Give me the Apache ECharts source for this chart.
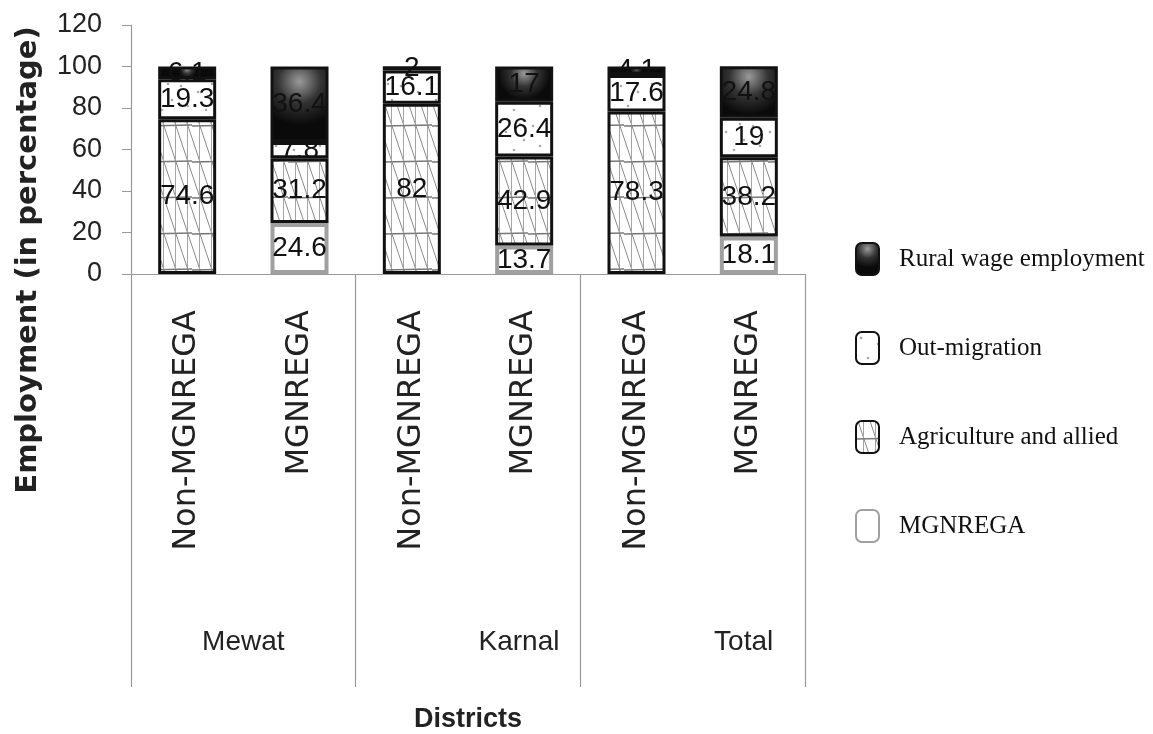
<!DOCTYPE html>
<html>
<head>
<meta charset="utf-8">
<script src="https://cdn.jsdelivr.net/npm/echarts@6/dist/echarts.min.js"></script>
<style>html,body{margin:0;padding:0;background:#fff;}#c{width:1153px;height:734px;}</style>
</head>
<body>
<div id="c"></div>
<script>
var categories = ['Non-MGNREGA','MGNREGA','Non-MGNREGA','MGNREGA','Non-MGNREGA','MGNREGA'];
var districts = ['Mewat','Karnal','Total'];
var mgnrega = [null, 24.6, null, 13.7, null, 18.1];
var agriculture = [74.6, 31.2, 82, 42.9, 78.3, 38.2];
var outMigration = [19.3, 7.8, 16.1, 26.4, 17.6, 19];
var ruralWage = [6.1, 36.4, 2, 17, 4.1, 24.8];
var yTicks = [0, 20, 40, 60, 80, 100, 120];

var NARROW = '"Liberation Sans",Arial,sans-serif';
var WIDE = '"DejaVu Sans",Verdana,sans-serif';

function hatchPattern(){
  var c = document.createElement('canvas'); c.width = 48; c.height = 36;
  var g = c.getContext('2d');
  g.fillStyle = '#fff'; g.fillRect(0,0,48,36);
  g.strokeStyle = '#8a8a8a'; g.lineWidth = 1;
  for (var k = -1; k < 5; k++) {
    var x0 = k*12 + 2;
    g.beginPath(); g.moveTo(x0, 0); g.lineTo(x0 + 12, 36); g.stroke();
  }
  g.strokeStyle = '#a5a5a5';
  for (var j = 0; j < 4; j++) { g.beginPath(); g.moveTo(j*12+7.5, 0); g.lineTo(j*12+7.5, 36); g.stroke(); }
  g.strokeStyle = '#777'; g.lineWidth = 1.3;
  g.beginPath(); g.moveTo(0, 18); g.lineTo(48, 17); g.stroke();
  return c;
}
function dotPattern(){
  var c = document.createElement('canvas'); c.width = 44; c.height = 40;
  var g = c.getContext('2d');
  g.fillStyle = '#fff'; g.fillRect(0,0,44,40);
  g.fillStyle = '#aaa';
  var pts = [[5,6],[22,12],[36,4],[12,26],[30,30],[40,20]];
  pts.forEach(function(p){ g.beginPath(); g.arc(p[0], p[1], 1.3, 0, Math.PI*2); g.fill(); });
  return c;
}
var ruralFill = {type:'radial', x:0.5, y:0.2, r:0.75, colorStops:[{offset:0,color:'#9a9a9a'},{offset:0.5,color:'#333'},{offset:1,color:'#0a0a0a'}]};

var labelStyle = {show:true, position:'inside', color:'#111', fontFamily:NARROW, fontSize:28,
  formatter:function(p){ return p.value == null ? '' : String(p.value); }};

var chart = echarts.init(document.getElementById('c'));
chart.setOption({
  animation:false,
  backgroundColor:'#fff',
  grid:{left:131, right:348, top:25, bottom:457, containLabel:false},
  legend:{
    orient:'vertical', left:850, top:237, itemWidth:23, itemHeight:32, itemGap:55,
    icon:'roundRect',
    data:['Rural wage employment','Out-migration','Agriculture and allied','MGNREGA'],
    textStyle:{fontFamily:'"Liberation Serif","Times New Roman",serif', fontSize:25, color:'#111', padding:[0,0,0,15]}
  },
  xAxis:[{
    type:'category', data:categories, position:'bottom',
    axisLine:{show:true, lineStyle:{color:'#999', width:1.2}},
    axisTick:{show:false},
    axisLabel:{rotate:90, margin:36, interval:0, color:'#222', fontFamily:WIDE, fontSize:32}
  },{
    type:'category', data:districts, position:'bottom',
    axisLine:{show:false},
    axisTick:{show:true, length:413, interval:0, lineStyle:{color:'#999', width:1.2}},
    axisLabel:{interval:0, margin:354, color:'#222', fontFamily:NARROW, fontSize:28,
      formatter:function(v, i){ return i === 0 ? v : '{s|' + v + '}'; },
      rich:{s:{fontFamily:NARROW, fontSize:28, color:'#222', padding:[0,0,0,102]}}},
    name:'Districts', nameLocation:'middle', nameGap:432,
    nameTextStyle:{fontFamily:NARROW, fontWeight:'bold', fontSize:27, color:'#222'}
  }],
  yAxis:{
    type:'value', min:yTicks[0], max:yTicks[yTicks.length-1], interval:20,
    axisLine:{show:true, lineStyle:{color:'#999', width:1.2}},
    axisTick:{show:true, inside:false, length:9, lineStyle:{color:'#999'}},
    splitLine:{show:false},
    axisLabel:{margin:29, color:'#222', fontFamily:NARROW, fontSize:27}
  },
  graphic:[{type:'text', x:28, y:260, rotation:Math.PI/2,
    style:{text:'Employment (in percentage)', fill:'#222', font:'bold 29px "DejaVu Sans", Verdana, sans-serif', align:'center', verticalAlign:'middle'}}],
  series:[
    {name:'MGNREGA', type:'bar', stack:'s', xAxisIndex:0, barWidth:58, data:mgnrega,
      itemStyle:{color:'#fff', borderColor:'#a0a0a0', borderWidth:4}, label:labelStyle},
    {name:'Agriculture and allied', type:'bar', stack:'s', xAxisIndex:0, barWidth:58, data:agriculture,
      itemStyle:{color:{image:hatchPattern(), repeat:'repeat'}, borderColor:'#111', borderWidth:3}, label:labelStyle},
    {name:'Out-migration', type:'bar', stack:'s', xAxisIndex:0, barWidth:58, data:outMigration,
      itemStyle:{color:{image:dotPattern(), repeat:'repeat'}, borderColor:'#111', borderWidth:3}, label:labelStyle},
    {name:'Rural wage employment', type:'bar', stack:'s', xAxisIndex:0, barWidth:58, data:ruralWage,
      itemStyle:{color:ruralFill, borderColor:'#111', borderWidth:3}, label:labelStyle}
  ]
});
</script>
</body>
</html>
